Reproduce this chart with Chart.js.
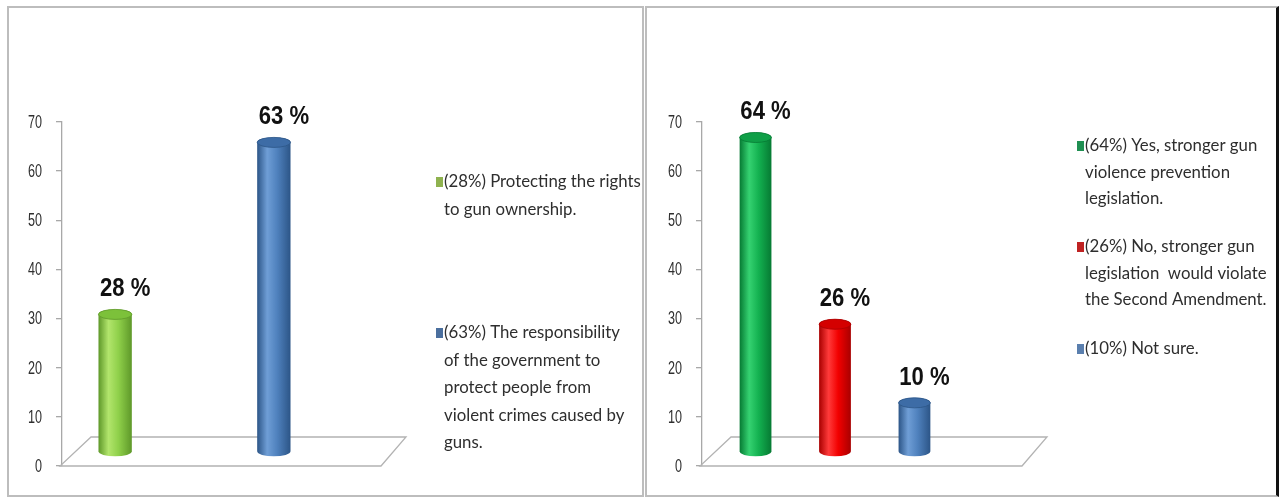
<!DOCTYPE html>
<html><head><meta charset="utf-8">
<script src="https://cdn.jsdelivr.net/npm/chart.js@4.4.1/dist/chart.umd.min.js"></script>
<style>
html,body{margin:0;padding:0;background:#fff;}
body{width:1283px;height:498px;position:relative;overflow:hidden;}
.panel{position:absolute;box-sizing:border-box;background:#fff;}
#p1{left:7px;top:6px;width:637px;height:491px;border:2px solid #bdbdbd;}
#p2{left:645px;top:6px;width:634px;height:491px;border:2px solid #bdbdbd;border-right:3px solid #111;}
canvas{position:absolute;}
#c1{left:9px;top:8px;}
#c2{left:648px;top:8px;}
</style></head><body>
<div class="panel" id="p1"></div><div class="panel" id="p2"></div>
<canvas id="c1" width="632" height="486"></canvas>
<canvas id="c2" width="626" height="486"></canvas>
<script>
// ---- data ----
const categories = [''];
const yMin = 0, yMax = 70, yStep = 10;

const leftSeriesNames = [
  '(28%) Protecting the rights to gun ownership.',
  '(63%) The responsibility of the government to protect people from violent crimes caused by guns.'
];
const leftLegendLines = [
  ['(28%) Protecting the rights', 'to gun ownership.'],
  ['(63%) The responsibility', 'of the government to', 'protect people from', 'violent crimes caused by', 'guns.']
];
const leftValues = [28, 63];
const leftValueLabels = ['28 %', '63 %'];

const rightSeriesNames = [
  '(64%) Yes, stronger gun violence prevention legislation.',
  '(26%) No, stronger gun legislation would violate the Second Amendment.',
  '(10%) Not sure.'
];
const rightLegendLines = [
  ['(64%) Yes, stronger gun', 'violence prevention', 'legislation.'],
  ['(26%) No, stronger gun', 'legislation  would violate', 'the Second Amendment.'],
  ['(10%) Not sure.']
];
const rightValues = [64, 26, 10];
const rightValueLabels = ['64 %', '26 %', '10 %'];

// ---- styles ----
const leftColors = [
  {dark:'#5e9829', light:'#b2e56c', mid:'#8fd04a', top:'#7cc13a', key:'#8fb24f'},
  {dark:'#2c5587', light:'#6f9ed6', mid:'#4f81bd', top:'#3d6ca6', key:'#4b6f9e'}
];
const rightColors = [
  {dark:'#067a33', light:'#35d271', mid:'#13b150', top:'#0f9f47', key:'#1f8f52'},
  {dark:'#a80000', light:'#ff3a3a', mid:'#f20000', top:'#d40000', key:'#bf2222'},
  {dark:'#2c5587', light:'#6f9ed6', mid:'#4f81bd', top:'#3d6ca6', key:'#5a7fae'}
];

const BASEFONT = '"Liberation Sans", Arial, sans-serif';
const LEGEND_FONT = '16.8px Lato, "Open Sans", sans-serif';

function condensedText(ctx, text, x, y, sx, align) {
  ctx.save();
  ctx.translate(x, y);
  ctx.scale(sx, 1);
  ctx.textAlign = align;
  ctx.fillText(text, 0, 0);
  ctx.restore();
}

function drawCylinder(ctx, cx, yTop, yBot, w, c) {
  const rx = w / 2, ry = 5;
  const g = ctx.createLinearGradient(cx - rx, 0, cx + rx, 0);
  g.addColorStop(0, c.dark);
  g.addColorStop(0.3, c.light);
  g.addColorStop(0.6, c.mid);
  g.addColorStop(1, c.dark);
  ctx.beginPath();
  ctx.moveTo(cx - rx, yTop);
  ctx.lineTo(cx - rx, yBot);
  ctx.ellipse(cx, yBot, rx, ry, 0, Math.PI, 0, true);
  ctx.lineTo(cx + rx, yTop);
  ctx.ellipse(cx, yTop, rx, ry, 0, 0, Math.PI, true);
  ctx.closePath();
  ctx.fillStyle = g;
  ctx.fill();
  ctx.beginPath();
  ctx.ellipse(cx, yTop, rx, ry, 0, 0, Math.PI * 2);
  ctx.fillStyle = c.top;
  ctx.fill();
  ctx.strokeStyle = c.dark;
  ctx.lineWidth = 0.8;
  ctx.stroke();
}

const cylPlugin = {
  id: 'cyl',
  beforeDatasetsDraw(chart, args, o) {
    const ctx = chart.ctx, a = chart.chartArea;
    ctx.save();
    ctx.strokeStyle = '#b3b3b3';
    ctx.lineWidth = 1.3;
    ctx.beginPath();
    ctx.moveTo(a.left - 2, a.bottom);
    ctx.lineTo(a.right, a.bottom);
    ctx.lineTo(a.right + o.backRight, a.bottom - o.depth);
    ctx.lineTo(a.left + o.backLeft, a.bottom - o.depth);
    ctx.closePath();
    ctx.stroke();
    // y tick labels from the library's scale
    const ys = chart.scales.y;
    ctx.fillStyle = '#2f2f2f';
    ctx.font = '17.5px ' + BASEFONT;
    ctx.textBaseline = 'middle';
    ys.ticks.forEach(t => {
      const y = ys.getPixelForValue(t.value);
      condensedText(ctx, String(t.value), a.left - 20, y + 1, 0.72, 'right');
    });
    ctx.restore();
  },
  afterDatasetsDraw(chart, args, o) {
    const ctx = chart.ctx;
    ctx.save();
    chart.data.datasets.forEach((ds, i) => {
      const el = chart.getDatasetMeta(i).data[0];
      const cx = el.x + o.dx;
      const yTop = el.y + o.dy, yBot = el.base + o.dy;
      drawCylinder(ctx, cx, yTop, yBot, el.width, o.colors[i]);
      ctx.fillStyle = '#111';
      ctx.font = 'bold 26px ' + BASEFONT;
      ctx.textBaseline = 'alphabetic';
      condensedText(ctx, o.valueLabels[i], cx + o.labelDx, yTop - 5 - 13, 0.85, 'center');
    });
    // legend
    ctx.font = LEGEND_FONT;
    ctx.textAlign = 'left';
    ctx.textBaseline = 'middle';
    o.legendLines.forEach((lines, i) => {
      const y0 = o.legendY[i];
      ctx.fillStyle = o.colors[i].key;
      ctx.fillRect(o.legendX, y0 - 5, 7, 10);
      ctx.fillStyle = '#2e2e2e';
      lines.forEach((t, j) => ctx.fillText(t, o.legendX + 8, y0 + j * o.lineH));
    });
    ctx.restore();
  }
};

function makeChart(id, names, values, colors, valueLabels, legendLines, opt) {
  const datasets = names.map((n, i) => ({
    label: n,
    data: [values[i]],
    backgroundColor: 'rgba(0,0,0,0)',
    borderWidth: 0,
    categoryPercentage: opt.catPct,
    barPercentage: opt.barPct
  }));
  return new Chart(document.getElementById(id), {
    type: 'bar',
    data: {labels: categories, datasets},
    options: {
      responsive: false,
      animation: false,
      events: [],
      layout: {padding: opt.padding},
      plugins: {
        legend: {display: false},
        tooltip: {enabled: false},
        cyl: {
          dx: -27, dy: -14, labelDx: 10, depth: 29, backLeft: 29, backRight: 25,
          colors, valueLabels, legendLines,
          legendX: opt.legendX, legendY: opt.legendY, lineH: opt.lineH
        }
      },
      scales: {
        x: {display: false},
        y: {
          min: yMin, max: yMax,
          ticks: {stepSize: yStep, display: false},
          grid: {drawOnChartArea: false, drawTicks: true, tickLength: 6, color: '#a8a8a8', lineWidth: 1.3},
          border: {display: true, color: '#a8a8a8', width: 1.3},
          afterFit(s) { s.width = opt.axisW; }
        }
      }
    },
    plugins: [cylPlugin]
  });
}

makeChart('c1', leftSeriesNames, leftValues, leftColors, leftValueLabels, leftLegendLines, {
  catPct: 0.995, barPct: 0.21, axisW: 53,
  padding: {left: 0, right: 260, top: 114, bottom: 28},
  legendX: 427, legendY: [174, 325], lineH: 27.5
});
makeChart('c2', rightSeriesNames, rightValues, rightColors, rightValueLabels, rightLegendLines, {
  catPct: 0.745, barPct: 0.40, axisW: 54,
  padding: {left: 0, right: 252, top: 114, bottom: 28},
  legendX: 429, legendY: [138, 239, 341], lineH: 26.5
});
</script>
</body></html>
